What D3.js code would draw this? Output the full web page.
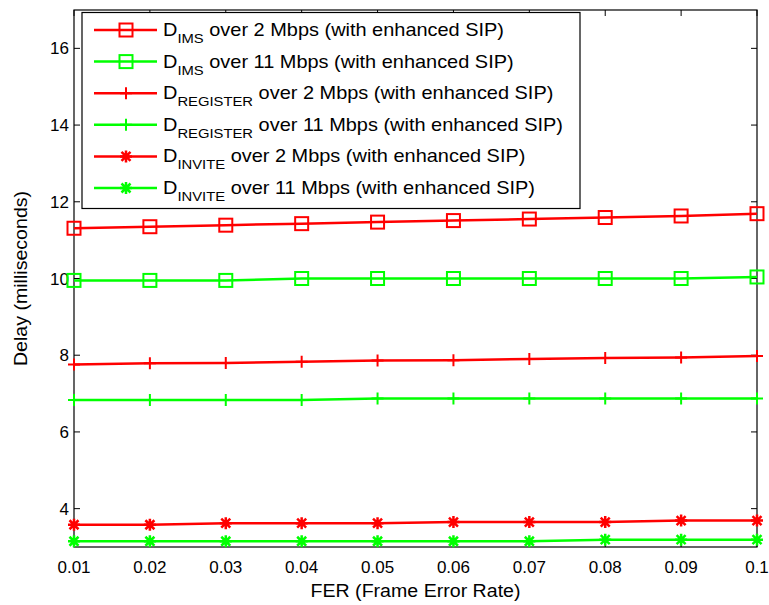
<!DOCTYPE html>
<html>
<head>
<meta charset="utf-8">
<script src="https://cdn.jsdelivr.net/npm/d3@7"></script>
<style>
  body { margin: 0; background: #fff; }
  text { font-family: Arial, "Liberation Sans", sans-serif; }
</style>
</head>
<body>
<svg width="769" height="605"></svg>
<script>
// FER values on x
var fer = [0.01, 0.02, 0.03, 0.04, 0.05, 0.06, 0.07, 0.08, 0.09, 0.1];
var xTickLabels = ["0.01","0.02","0.03","0.04","0.05","0.06","0.07","0.08","0.09","0.1"];
var yTicks = [4, 6, 8, 10, 12, 14, 16];

// delays in milliseconds
var ims2 = [11.31, 11.35, 11.39, 11.43, 11.47, 11.51, 11.55, 11.59, 11.63, 11.69];
var ims11 = [9.95, 9.95, 9.95, 10.0, 10.0, 10.0, 10.0, 10.0, 10.0, 10.04];
var reg2 = [7.76, 7.79, 7.80, 7.83, 7.86, 7.87, 7.90, 7.93, 7.94, 7.98];
var reg11 = [6.83, 6.83, 6.83, 6.83, 6.87, 6.87, 6.87, 6.87, 6.87, 6.87];
var inv2 = [3.58, 3.58, 3.62, 3.62, 3.62, 3.65, 3.65, 3.65, 3.69, 3.69];
var inv11 = [3.15, 3.15, 3.15, 3.15, 3.15, 3.15, 3.15, 3.19, 3.19, 3.19];

var series = [
  {sub: "IMS", rest: " over 2 Mbps (with enhanced SIP)", vals: ims2, color: "#ff0000", mk: "square"},
  {sub: "IMS", rest: " over 11 Mbps (with enhanced SIP)", vals: ims11, color: "#00ff00", mk: "square"},
  {sub: "REGISTER", rest: " over 2 Mbps (with enhanced SIP)", vals: reg2, color: "#ff0000", mk: "plus"},
  {sub: "REGISTER", rest: " over 11 Mbps (with enhanced SIP)", vals: reg11, color: "#00ff00", mk: "plus"},
  {sub: "INVITE", rest: " over 2 Mbps (with enhanced SIP)", vals: inv2, color: "#ff0000", mk: "star"},
  {sub: "INVITE", rest: " over 11 Mbps (with enhanced SIP)", vals: inv11, color: "#00ff00", mk: "star"}
];

var pLeft = 74, pRight = 757, pTop = 10, pBottom = 547;
var svg = d3.select("svg");

var x = d3.scaleLinear().domain([0.01, 0.1]).range([pLeft, pRight]);
var y = d3.scaleLinear().domain([3, 17]).range([pBottom, pTop]);

// ticks (inside)
var g = svg.append("g");
fer.forEach(function(f, i) {
  g.append("line").attr("x1", x(f)).attr("x2", x(f)).attr("y1", pBottom).attr("y2", pBottom - 6)
    .attr("stroke", "#000");
  g.append("line").attr("x1", x(f)).attr("x2", x(f)).attr("y1", pTop).attr("y2", pTop + 6)
    .attr("stroke", "#000");
  g.append("text").attr("x", x(f)).attr("y", 573).attr("text-anchor", "middle")
    .attr("font-size", 17).text(xTickLabels[i]);
});
yTicks.forEach(function(t) {
  g.append("line").attr("x1", pLeft).attr("x2", pLeft + 6).attr("y1", y(t)).attr("y2", y(t))
    .attr("stroke", "#000");
  g.append("line").attr("x1", pRight).attr("x2", pRight - 6).attr("y1", y(t)).attr("y2", y(t))
    .attr("stroke", "#000");
  g.append("text").attr("x", pLeft - 5).attr("y", y(t) + 6).attr("text-anchor", "end")
    .attr("font-size", 17).text(t);
});

svg.append("rect").attr("x", pLeft).attr("y", pTop).attr("width", pRight - pLeft)
  .attr("height", pBottom - pTop).attr("fill", "none").attr("stroke", "#000").attr("stroke-width", 1.2);

svg.append("text").attr("transform", "translate(" + ((pLeft + pRight) / 2) + ",597) scale(1.12,1)")
  .attr("text-anchor", "middle").attr("font-size", 17.5).text("FER (Frame Error Rate)");
svg.append("text").attr("transform", "translate(27," + ((pTop + pBottom) / 2) + ") rotate(-90) scale(1.12,1)")
  .attr("text-anchor", "middle").attr("font-size", 17.5).text("Delay (milliseconds)");

function marker(sel, type, color) {
  if (type == "square") {
    sel.append("rect").attr("x", -6.5).attr("y", -6.5).attr("width", 13).attr("height", 13)
      .attr("fill", "none").attr("stroke", color).attr("stroke-width", 2);
  } else if (type == "plus") {
    sel.append("path").attr("d", "M-6,0H6M0,-6V6").attr("stroke", color).attr("stroke-width", 2);
  } else {
    sel.append("path").attr("d", "M-6,0H6M0,-6V6M-4.5,-4.5L4.5,4.5M-4.5,4.5L4.5,-4.5")
      .attr("stroke", color).attr("stroke-width", 2.5);
    sel.append("circle").attr("r", 3).attr("fill", color);
  }
}

var line = d3.line().x(function(d, i) { return x(fer[i]); }).y(function(d) { return y(d); });

series.forEach(function(s) {
  svg.append("path").datum(s.vals).attr("d", line).attr("fill", "none")
    .attr("stroke", s.color).attr("stroke-width", 2.5);
  s.vals.forEach(function(v, i) {
    var m = svg.append("g").attr("transform", "translate(" + x(fer[i]) + "," + y(v) + ")");
    marker(m, s.mk, s.color);
  });
});

// legend
var lg = svg.append("g");
lg.append("rect").attr("x", 82).attr("y", 12.5).attr("width", 498).attr("height", 196)
  .attr("fill", "#fff").attr("stroke", "#000").attr("stroke-width", 1.2);
series.forEach(function(s, i) {
  var ly = 30 + i * 31.6;
  lg.append("line").attr("x1", 94).attr("x2", 157).attr("y1", ly).attr("y2", ly)
    .attr("stroke", s.color).attr("stroke-width", 2.5);
  var m = lg.append("g").attr("transform", "translate(126," + ly + ")");
  marker(m, s.mk, s.color);
  var t = lg.append("text").attr("transform", "translate(163," + (ly + 6) + ") scale(1.14,1)")
    .attr("font-size", 17.5);
  t.append("tspan").text("D");
  t.append("tspan").attr("font-size", 13).attr("dy", 7).text(s.sub);
  t.append("tspan").attr("dy", -7).text(s.rest);
});
</script>
</body>
</html>
